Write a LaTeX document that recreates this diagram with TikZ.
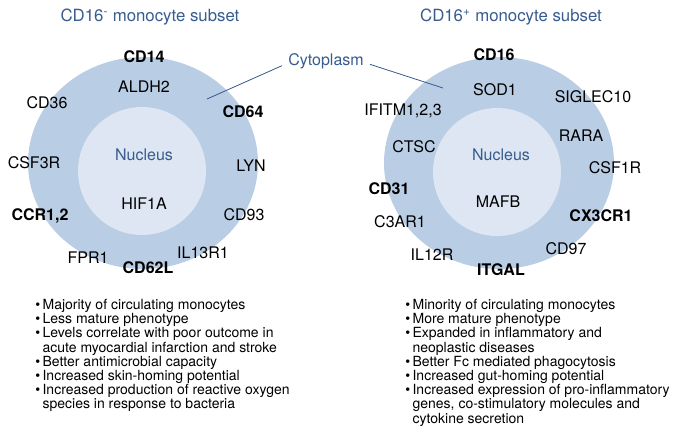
\documentclass[tikz,border=0pt]{standalone}
\usepackage{fontspec}
\setmainfont{TeX Gyre Heros}
\definecolor{outerblue}{RGB}{185,205,228}
\definecolor{innerblue}{RGB}{221,230,242}
\definecolor{textblue}{RGB}{55,92,142}
\newcommand{\itm}{\makebox[5.5pt][l]{\textbullet}}
\newcommand{\ind}{\hspace*{5.5pt}}
\tikzset{
  gene/.style={font=\fontsize{12}{14}\selectfont,inner sep=1pt},
  keygene/.style={gene,font=\fontsize{12}{14}\selectfont\bfseries},
  title/.style={font=\fontsize{12.6}{15}\selectfont,text=textblue},
  region/.style={gene,text=textblue},
  notes/.style={font=\fontsize{10.5}{10.65}\selectfont,align=left,inner sep=0pt,anchor=north west}
}
\begin{document}
\begin{tikzpicture}[x=0.75pt,y=-0.75pt]
	\useasboundingbox (0,0) rectangle (685,436);
	% cells
	\fill[outerblue] (143,163) ellipse [x radius=115, y radius=106];
	\fill[innerblue] (142,171) circle [radius=64];
	\fill[outerblue] (499,163) ellipse [x radius=115, y radius=106];
	\fill[innerblue] (497,172) circle [radius=64];
	% titles
	\node[title] (ltitle) at (150,17) {CD16\textsuperscript{-} monocyte subset};
	\node[title] (rtitle) at (511,17) {CD16\textsuperscript{+} monocyte subset};
	% cytoplasm
	\node[region,inner sep=4.5pt] (cyto) at (326,61) {Cytoplasm};
	\coordinate (lcyt) at (207,99);
	\coordinate (rcyt) at (443,88);
	\draw[textblue,line width=0.6pt] ([yshift=-3.5pt]cyto.west) -- (lcyt);
	\draw[textblue,line width=0.6pt] ([yshift=-2.5pt]cyto.east) -- (rcyt);
	\node[region] (lnuc) at (144,155) {Nucleus};
	\node[region] (rnuc) at (501,155) {Nucleus};
	% CD16- subset
	\node[keygene] (cd14) at (144,57) {CD14};
	\node[gene] (aldh) at (144,87) {ALDH2};
	\node[gene] (cd36) at (47,103) {CD36};
	\node[keygene] (cd64) at (243,112) {CD64};
	\node[gene] (csf3r) at (34,163) {CSF3R};
	\node[gene] (lyn) at (251,166) {LYN};
	\node[gene] (hif) at (144,204) {HIF1A};
	\node[keygene] (ccr) at (40,216) {CCR1,2};
	\node[gene] (cd93) at (244,215) {CD93};
	\node[gene] (il13) at (203,253) {IL13R1};
	\node[gene] (fpr) at (88,258) {FPR1};
	\node[keygene] (cd62) at (148,268) {CD62L};
	% CD16+ subset
	\node[keygene] (cd16) at (494,55) {CD16};
	\node[gene] (sod) at (495,90) {SOD1};
	\node[gene] (siglec) at (593,97) {SIGLEC10};
	\node[gene] (ifitm) at (403,111) {IFITM1,2,3};
	\node[gene] (rara) at (581,136) {RARA};
	\node[gene] (ctsc) at (414,147) {CTSC};
	\node[gene] (csf1r) at (615,168) {CSF1R};
	\node[keygene] (cd31) at (389,189) {CD31};
	\node[gene] (mafb) at (498,202) {MAFB};
	\node[keygene] (cx3) at (601,216) {CX3CR1};
	\node[gene] (c3ar) at (400,222) {C3AR1};
	\node[gene] (il12) at (432,255) {IL12R};
	\node[gene] (cd97) at (566,249) {CD97};
	\node[keygene] (itgal) at (501,270) {ITGAL};
	% properties
	\node[notes] (lnotes) at (35,299) {\itm Majority of circulating monocytes\\
		\itm Less mature phenotype\\
		\itm Levels correlate with poor outcome in\\
		\ind acute myocardial infarction and stroke\\
		\itm Better antimicrobial capacity\\
		\itm Increased skin-homing potential\\
		\itm Increased production of reactive oxygen\\
		\ind species in response to bacteria};
	\node[notes] (rnotes) at (405,299) {\itm Minority of circulating monocytes\\
		\itm More mature phenotype\\
		\itm Expanded in inflammatory and\\
		\ind neoplastic diseases\\
		\itm Better Fc mediated phagocytosis\\
		\itm Increased gut-homing potential\\
		\itm Increased expression of pro-inflammatory\\
		\ind genes, co-stimulatory molecules and\\
		\ind cytokine secretion};
\end{tikzpicture}
\end{document}
